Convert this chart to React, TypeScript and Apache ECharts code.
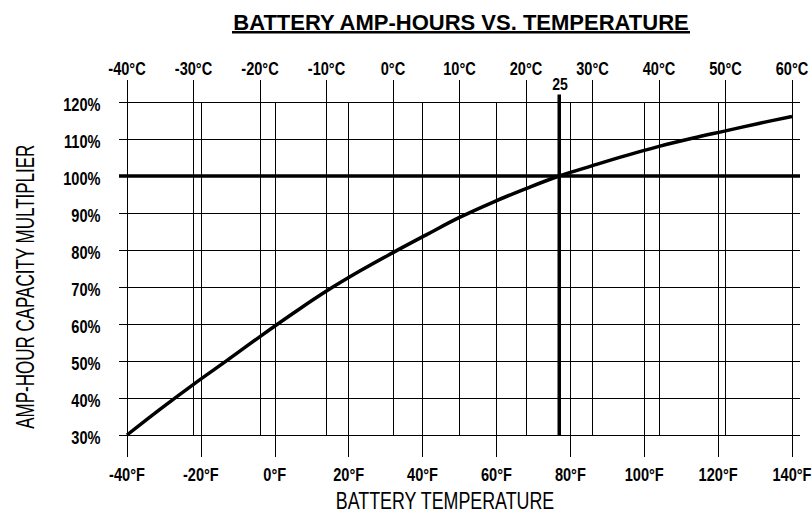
import React, { useEffect, useRef } from "react";
import * as echarts from "echarts";

// Battery temperature (°C) and amp-hour capacity multiplier (%)
const tempC = [-40, -35, -30, -25, -20, -15, -10, -5, 0, 5, 10, 15, 20, 25, 30, 35, 40, 45, 50, 55, 60];
const capacity = [30, 37.0, 43.7, 50.1, 56.6, 62.9, 68.9, 74.3, 79.3, 84.1, 88.8, 92.9, 96.6, 100, 102.8, 105.5, 108.0, 110.2, 112.2, 114.2, 116.1];

// Axis ranges and tick labels
const celsiusRange = [-40, 60];
const celsiusTicks = [-40, -30, -20, -10, 0, 10, 20, 30, 40, 50, 60];
const fahrenheitRange = [-40, 140];
const fahrenheitTicks = [-40, -20, 0, 20, 40, 60, 80, 100, 120, 140];
const percentRange = [30, 120];
const percentTicks = [30, 40, 50, 60, 70, 80, 90, 100, 110, 120];

// Reference point
const refTemp = 25;
const refCapacity = 100;
const refLineTop = 122;
const refLabel = "25";

const titleText = "BATTERY AMP-HOURS VS. TEMPERATURE";
const xTitle = "BATTERY TEMPERATURE";
const yTitle = "AMP-HOUR CAPACITY MULTIPLIER";

const FONT = "'Liberation Sans', Arial, Helvetica, sans-serif";
const TICK_FONT = `bold 18px ${FONT}`;
const TICK_SCALE = 0.81;

function labelSeries(
  xAxisIndex: number,
  data: number[][],
  make: (v: number[]) => { dx: number; dy: number; text: string; align: string },
  font: string = TICK_FONT,
  scaleX: number = TICK_SCALE
) {
  return {
    type: "custom",
    coordinateSystem: "cartesian2d",
    xAxisIndex,
    yAxisIndex: 0,
    data,
    clip: false,
    silent: true,
    z: 10,
    renderItem: (_params: any, api: any) => {
      const v = [api.value(0), api.value(1)];
      const p = api.coord(v);
      const m = make(v);
      return {
        type: "text",
        x: p[0] + m.dx,
        y: p[1] + m.dy,
        scaleX,
        style: {
          text: m.text,
          font,
          fill: "#000",
          align: m.align,
          verticalAlign: "middle",
        },
      };
    },
  };
}

export default function App() {
  const ref = useRef<HTMLDivElement>(null);
  useEffect(() => {
    if (!ref.current) return;
    const chart = echarts.init(ref.current, undefined, { renderer: "svg" });
    const gridLine = { show: true, lineStyle: { color: "#000", width: 1 } };
    const option: any = {
      animation: false,
      backgroundColor: "#fff",
      grid: [
        { left: 127, right: 20, top: 102, bottom: 79 },
        { left: 119, right: 12, top: 102, bottom: 79 },
      ],
      xAxis: [
        {
          type: "value",
          gridIndex: 0,
          position: "bottom",
          min: fahrenheitRange[0],
          max: fahrenheitRange[1],
          interval: fahrenheitTicks[1] - fahrenheitTicks[0],
          axisLine: { show: false },
          axisTick: { show: true, length: 22, lineStyle: { color: "#000", width: 1 } },
          splitLine: gridLine,
          axisLabel: { show: false },
        },
        {
          type: "value",
          gridIndex: 0,
          position: "top",
          min: celsiusRange[0],
          max: celsiusRange[1],
          interval: celsiusTicks[1] - celsiusTicks[0],
          axisLine: { show: false },
          axisTick: { show: true, length: 22, lineStyle: { color: "#000", width: 1 } },
          splitLine: gridLine,
          axisLabel: { show: false },
        },
        { type: "value", gridIndex: 1, min: 0, max: 1, show: false },
      ],
      yAxis: [
        {
          type: "value",
          gridIndex: 0,
          min: percentRange[0],
          max: percentRange[1],
          interval: percentTicks[1] - percentTicks[0],
          axisLine: { show: false },
          axisTick: { show: false },
          splitLine: { show: false },
          axisLabel: { show: false },
        },
        {
          type: "value",
          gridIndex: 1,
          min: percentRange[0],
          max: percentRange[1],
          interval: percentTicks[1] - percentTicks[0],
          axisLine: { show: false },
          axisTick: { show: false },
          axisLabel: { show: false },
          splitLine: gridLine,
        },
      ],
      series: [
        {
          type: "line",
          xAxisIndex: 1,
          yAxisIndex: 0,
          data: tempC.map((t, i) => [t, capacity[i]]),
          smooth: 0.4,
          symbol: "none",
          lineStyle: { color: "#000", width: 3.5 },
          z: 5,
        },
        {
          type: "line",
          xAxisIndex: 1,
          yAxisIndex: 0,
          data: [[refTemp, percentRange[0]], [refTemp, refLineTop]],
          clip: false,
          symbol: "none",
          lineStyle: { color: "#000", width: 3.5 },
          z: 4,
        },
        {
          type: "line",
          xAxisIndex: 2,
          yAxisIndex: 1,
          data: [[0, refCapacity], [1, refCapacity]],
          symbol: "none",
          lineStyle: { color: "#000", width: 3.5 },
          z: 4,
        },
        // Celsius tick labels (top)
        labelSeries(1, celsiusTicks.map((c) => [c, percentRange[1]]), (v) => ({
          dx: 0, dy: -33.5, text: `${v[0]}°C`, align: "center",
        })),
        // Fahrenheit tick labels (bottom)
        labelSeries(0, fahrenheitTicks.map((f) => [f, percentRange[0]]), (v) => ({
          dx: 0, dy: 39, text: `${v[0]}°F`, align: "center",
        })),
        // Percent tick labels (left)
        labelSeries(1, percentTicks.map((y) => [celsiusRange[0], y]), (v) => ({
          dx: -26.5, dy: 2.3, text: `${v[1]}%`, align: "right",
        })),
        // Reference label
        labelSeries(
          1,
          [[refTemp, refLineTop]],
          () => ({ dx: 0.7, dy: -10, text: refLabel, align: "center" }),
          `bold 16px ${FONT}`,
          0.88
        ),
      ],
      graphic: [
        {
          type: "text",
          x: 461,
          y: 22,
          style: {
            text: titleText,
            fill: "#000",
            font: `bold 22px ${FONT}`,
            align: "center",
            verticalAlign: "middle",
          },
        },
        {
          type: "rect",
          shape: { x: 232, y: 31, width: 458, height: 2.5 },
          style: { fill: "#000" },
        },
        {
          type: "text",
          x: 445,
          y: 500.5,
          scaleX: 0.744,
          style: {
            text: xTitle,
            fill: "#000",
            font: `24px ${FONT}`,
            align: "center",
            verticalAlign: "middle",
          },
        },
        {
          type: "text",
          x: 26,
          y: 286.7,
          rotation: Math.PI / 2,
          scaleX: 0.68,
          style: {
            text: yTitle,
            fill: "#000",
            font: `25px ${FONT}`,
            align: "center",
            verticalAlign: "middle",
          },
        },
      ],
    };
    chart.setOption(option);
    return () => chart.dispose();
  }, []);
  return (
    <div
      ref={ref}
      style={{ position: "fixed", left: 0, top: 0, width: 812, height: 514 }}
    />
  );
}
